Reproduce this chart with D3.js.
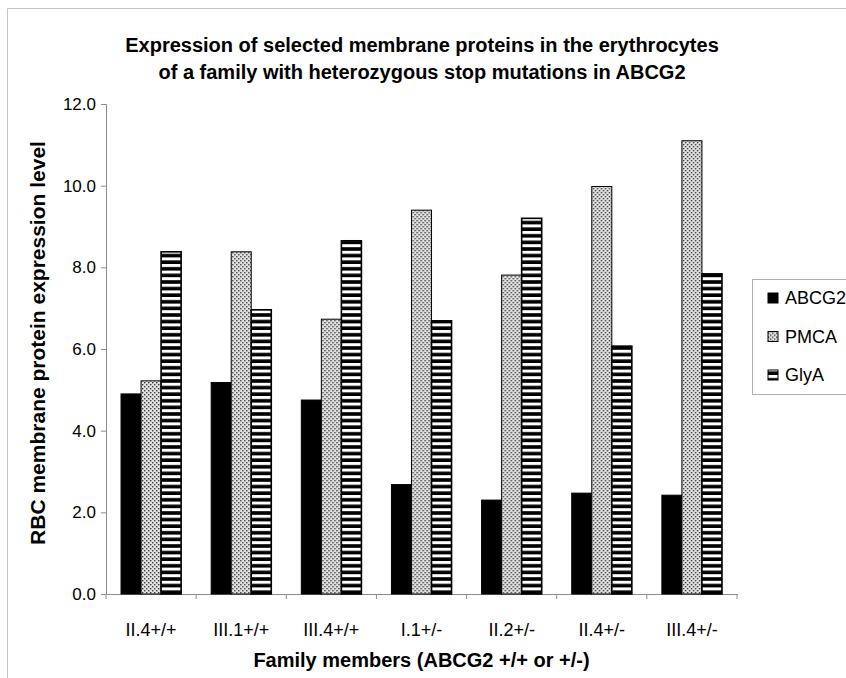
<!DOCTYPE html>
<html>
<head>
<meta charset="utf-8">
<script src="https://cdn.jsdelivr.net/npm/d3@7"></script>
<style>
  body { margin: 0; background: #fff; }
  text { font-family: "Liberation Sans", Arial, sans-serif; fill: #000; }
</style>
</head>
<body>
<div id="chart"></div>
<script>
// data
var members = ["II.4+/+", "III.1+/+", "III.4+/+", "I.1+/-", "II.2+/-", "II.4+/-", "III.4+/-"];
var series = ["ABCG2", "PMCA", "GlyA"];
var abcg2 = [4.90, 5.18, 4.75, 2.68, 2.30, 2.47, 2.42];
var pmca  = [5.22, 8.38, 6.73, 9.40, 7.81, 9.98, 11.10];
var glya  = [8.38, 6.96, 8.65, 6.69, 9.20, 6.07, 7.84];
var yTicks = [0, 2, 4, 6, 8, 10, 12];

var W = 846, H = 678;
var plot = { left: 106, right: 737, top: 104, bottom: 594 };

var svg = d3.select("#chart")
  .append("svg")
    .attr("width", W)
    .attr("height", H);

svg.append("rect").attr("width", W).attr("height", H).attr("fill", "#fff");

// fill patterns
var defs = svg.append("defs");
var dots = defs.append("pattern")
  .attr("id", "dots")
  .attr("patternUnits", "userSpaceOnUse")
  .attr("width", 4).attr("height", 4);
dots.append("rect").attr("width", 4).attr("height", 4).attr("fill", "#e2e2e2");
dots.append("rect").attr("x", 0).attr("y", 0).attr("width", 1.4).attr("height", 1.4).attr("fill", "#3a3a3a");
dots.append("rect").attr("x", 2).attr("y", 2).attr("width", 1.4).attr("height", 1.4).attr("fill", "#3a3a3a");

var stripes = defs.append("pattern")
  .attr("id", "stripes")
  .attr("patternUnits", "userSpaceOnUse")
  .attr("width", 8).attr("height", 6.6);
stripes.append("rect").attr("width", 8).attr("height", 6.6).attr("fill", "#000");
stripes.append("rect").attr("y", 0).attr("width", 8).attr("height", 3).attr("fill", "#fff");

var fills = { ABCG2: "#000", PMCA: "url(#dots)", GlyA: "url(#stripes)" };
var strokes = { ABCG2: 1, PMCA: 1, GlyA: 1.6 };

// chart area frame (cut off on the right/bottom like the original)
svg.append("path")
  .attr("d", "M7.5," + H + "V8.5H" + W)
  .attr("fill", "none")
  .attr("stroke", "#c4c4c4");

var x0 = d3.scaleBand().domain(members).range([plot.left, plot.right]);
var x1 = d3.scaleBand().domain(series).range([0, x0.bandwidth()])
  .paddingInner(0).paddingOuter(0.75);
var y = d3.scaleLinear().domain([0, 12]).range([plot.bottom, plot.top]);

// y axis
var yAxis = svg.append("g")
  .attr("transform", "translate(" + plot.left + ",0)")
  .call(d3.axisLeft(y).tickValues(yTicks).tickFormat(d3.format(".1f")).tickSize(5).tickPadding(5));
yAxis.select(".domain").attr("stroke", "#8c8c8c");
yAxis.selectAll(".tick line").attr("stroke", "#8c8c8c");
yAxis.selectAll(".tick text").style("font-size", "17px");

// x axis, ticks between categories
var xAxis = svg.append("g")
  .attr("transform", "translate(0," + plot.bottom + ")")
  .call(d3.axisBottom(x0).tickSize(0).tickPadding(29));
xAxis.select(".domain").attr("stroke", "#8c8c8c");
xAxis.selectAll(".tick text").style("font-size", "18px");
xAxis.selectAll(".sep")
  .data(d3.range(members.length + 1))
  .enter()
  .append("line")
  .attr("class", "sep")
  .attr("x1", function(i) { return plot.left + i * x0.step(); })
  .attr("x2", function(i) { return plot.left + i * x0.step(); })
  .attr("y1", 0).attr("y2", 5)
  .attr("stroke", "#8c8c8c");

// bars
var rows = members.map(function(m, i) {
  return { member: m, values: [
    { name: "ABCG2", value: abcg2[i] },
    { name: "PMCA", value: pmca[i] },
    { name: "GlyA", value: glya[i] }
  ] };
});

var groups = svg.selectAll(".group")
  .data(rows)
  .enter()
  .append("g")
  .attr("class", "group")
  .attr("transform", function(d) { return "translate(" + x0(d.member) + ",0)"; });

groups.selectAll("rect")
  .data(function(d) { return d.values; })
  .enter()
  .append("rect")
  .attr("x", function(d) { return x1(d.name); })
  .attr("y", function(d) { return y(d.value); })
  .attr("width", x1.bandwidth())
  .attr("height", function(d) { return y(0) - y(d.value); })
  .attr("fill", function(d) { return fills[d.name]; })
  .attr("stroke", "#000")
  .attr("stroke-width", function(d) { return strokes[d.name]; });

// title
svg.append("text")
  .attr("x", 422).attr("y", 52)
  .attr("text-anchor", "middle")
  .style("font-size", "20px").style("font-weight", "bold")
  .text("Expression of selected membrane proteins in the erythrocytes");
svg.append("text")
  .attr("x", 422).attr("y", 79)
  .attr("text-anchor", "middle")
  .style("font-size", "20px").style("font-weight", "bold")
  .text("of a family with heterozygous stop mutations in ABCG2");

// axis titles
svg.append("text")
  .attr("transform", "translate(45," + ((plot.top + plot.bottom) / 2 - 6) + ") rotate(-90)")
  .attr("text-anchor", "middle")
  .style("font-size", "21px").style("font-weight", "bold")
  .text("RBC membrane protein expression level");
svg.append("text")
  .attr("x", (plot.left + plot.right) / 2).attr("y", 667)
  .attr("text-anchor", "middle")
  .style("font-size", "20px").style("font-weight", "bold")
  .text("Family members (ABCG2 +/+ or +/-)");

// legend
var legend = svg.append("g").attr("transform", "translate(752,279)");
legend.append("rect")
  .attr("x", 0.5).attr("y", 0.5)
  .attr("width", 110).attr("height", 115)
  .attr("fill", "#fff").attr("stroke", "#b0b0b0");
var item = legend.selectAll(".item")
  .data(series)
  .enter()
  .append("g")
  .attr("class", "item")
  .attr("transform", function(d, i) { return "translate(16," + (19 + i * 38.5) + ")"; });
item.append("rect")
  .attr("x", 0).attr("y", -5)
  .attr("width", 10).attr("height", 10)
  .attr("fill", function(d) { return fills[d]; })
  .attr("stroke", "#000");
item.append("text")
  .attr("x", 17).attr("dy", "0.35em")
  .style("font-size", "18px")
  .text(function(d) { return d; });
</script>
</body>
</html>
